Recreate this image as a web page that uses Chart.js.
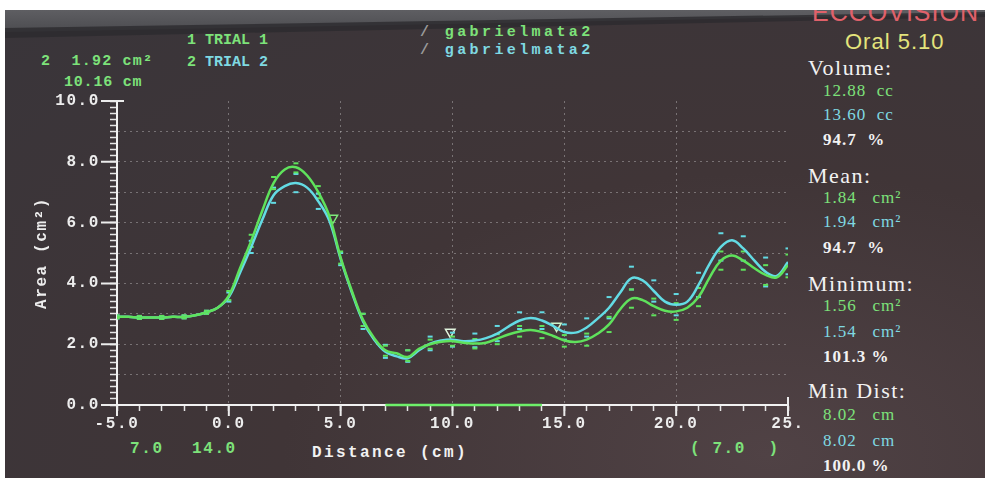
<!DOCTYPE html>
<html>
<head>
<meta charset="utf-8">
<script src="https://cdn.jsdelivr.net/npm/chart.js@4.4.1/dist/chart.umd.min.js"></script>
<style>
    html, body { margin: 0; padding: 0; background: #fff; width: 985px; height: 485px; overflow: hidden; }
    #screen {
        position: absolute; left: 5px; top: 10px; width: 980px; height: 468px; overflow: hidden;
        background: radial-gradient(ellipse at 78% 95%, #504245 0%, #403537 45%, #39353a 100%);
    }
    #bezel {
        position: absolute; left: 0; top: 0; width: 980px; height: 24px;
        background: linear-gradient(#5e5e62, #4a4a4e);
        clip-path: polygon(0 0, 100% 0, 100% 4px, 0 22px);
    }
    #shade {
        position: absolute; left: 0; top: 0; width: 980px; height: 28px;
        background: #2c2b2e;
        clip-path: polygon(0 18px, 100% 2px, 100% 7px, 0 28px);
        opacity: 0.8;
    }
    .m { position: absolute; white-space: pre; font: bold 16px 'Liberation Mono', 'DejaVu Sans Mono', monospace; letter-spacing: 1.6px; line-height: 16px; }
    .n { position: absolute; white-space: pre; font: bold 15px 'Liberation Mono', 'DejaVu Sans Mono', monospace; line-height: 15px; }
    .s { position: absolute; white-space: pre; font: 17px 'Liberation Serif', serif; letter-spacing: 1px; line-height: 18px; }
    .h { position: absolute; white-space: pre; font: 22px 'Liberation Serif', serif; letter-spacing: 1.5px; line-height: 22px; color: #f2f2f2; }
    .g { color: #7de27a; }
    .c { color: #7fd9e2; }
    .w { color: #f2f2f2; }
    canvas { position: absolute; left: 0; top: 0; }
</style>
</head>
<body>
<div id="screen">
    <div id="bezel"></div>
    <div id="shade"></div>
    <div style="position:absolute;left:807px;top:-12px;font:25px 'Liberation Sans',sans-serif;letter-spacing:1px;color:#e0616a;">ECCOVISION</div>
</div>

<div class="n g" style="left:41px;top:54px;letter-spacing:1.2px;">2  1.92 cm²</div>
<div class="n g" style="left:64px;top:75px;letter-spacing:0.8px;">10.16 cm</div>
<div class="n" style="left:187px;top:33px;"><span class="g">1 TRIAL 1</span></div>
<div class="n" style="left:187px;top:55px;"><span class="g">2 </span><span class="c">TRIAL 2</span></div>
<div class="n" style="left:420px;top:25px;letter-spacing:3.4px;"><span style="color:#9a9a9a">/ </span><span class="g">gabrielmata2</span></div>
<div class="n" style="left:420px;top:43px;letter-spacing:3.4px;"><span style="color:#9a9a9a">/ </span><span class="c">gabrielmata2</span></div>

<div class="m g" style="left:130px;top:441px;">7.0</div>
<div class="m g" style="left:192px;top:441px;">14.0</div>
<div class="m w" style="left:312px;top:445px;letter-spacing:2.4px;">Distance (cm)</div>
<div class="m g" style="left:690px;top:441px;">( 7.0  )</div>

<div style="position:absolute;left:845px;top:29px;font:22px 'Liberation Sans',sans-serif;letter-spacing:1px;color:#e4e47c;">Oral 5.10</div>
<div class="h" style="left:808px;top:57px;">Volume:</div>
<div class="s g" style="left:823px;top:82px;">12.88  cc</div>
<div class="s c" style="left:823px;top:106px;">13.60  cc</div>
<div class="s w" style="left:823px;top:131px;font-weight:bold;">94.7  %</div>
<div class="h" style="left:808px;top:165px;">Mean:</div>
<div class="s g" style="left:823px;top:189px;">1.84   cm²</div>
<div class="s c" style="left:823px;top:213px;">1.94   cm²</div>
<div class="s w" style="left:823px;top:239px;font-weight:bold;">94.7  %</div>
<div class="h" style="left:808px;top:273px;">Minimum:</div>
<div class="s g" style="left:823px;top:297px;">1.56   cm²</div>
<div class="s c" style="left:823px;top:323px;">1.54   cm²</div>
<div class="s w" style="left:823px;top:348px;font-weight:bold;">101.3 %</div>
<div class="h" style="left:808px;top:380px;">Min Dist:</div>
<div class="s g" style="left:823px;top:406px;">8.02   cm</div>
<div class="s c" style="left:823px;top:432px;">8.02   cm</div>
<div class="s w" style="left:823px;top:457px;font-weight:bold;">100.0 %</div>

<canvas id="area-chart" width="985" height="485"></canvas>

<script>
    // distance along the tract (cm) and mean area (cm²) of each trial
    const distance = [-5, -4.5, -4, -3.5, -3, -2.5, -2, -1.5, -1, -0.5,
        0, 0.5, 1, 1.5, 2, 2.5, 3, 3.5, 4, 4.5,
        5, 5.5, 6, 6.5, 7, 7.5, 8, 8.5, 9, 9.5,
        10, 10.5, 11, 11.5, 12, 12.5, 13, 13.5, 14, 14.5,
        15, 15.5, 16, 16.5, 17, 17.5, 18, 18.5, 19, 19.5,
        20, 20.5, 21, 21.5, 22, 22.5, 23, 23.5, 24, 24.5, 25];
    const trial1 = [2.9, 2.9, 2.88, 2.88, 2.88, 2.9, 2.9, 2.95, 3.05, 3.2,
        3.6, 4.5, 5.4, 6.4, 7.3, 7.75, 7.82, 7.55, 7.0, 6.2,
        4.85, 3.75, 2.8, 2.2, 1.8, 1.7, 1.58, 1.85, 2.0, 2.08,
        2.1, 2.05, 2.02, 2.05, 2.18, 2.32, 2.42, 2.47, 2.4, 2.27,
        2.12, 2.07, 2.15, 2.35, 2.65, 3.15, 3.5, 3.45, 3.25, 3.1,
        3.08, 3.2, 3.55, 4.2, 4.75, 4.92, 4.75, 4.5, 4.28, 4.2, 4.6];
    const trial2 = [2.9, 2.9, 2.88, 2.88, 2.88, 2.9, 2.9, 2.95, 3.05, 3.2,
        3.55, 4.35, 5.2, 6.1, 6.9, 7.2, 7.3, 7.15, 6.7, 6.05,
        4.8, 3.7, 2.75, 2.15, 1.75, 1.6, 1.54, 1.8, 2.02, 2.12,
        2.15, 2.1, 2.12, 2.2, 2.35, 2.58, 2.78, 2.86, 2.78, 2.6,
        2.4, 2.38, 2.55, 2.85, 3.2, 3.7, 4.17, 4.1, 3.75, 3.4,
        3.3, 3.4, 3.95, 4.65, 5.2, 5.42, 5.15, 4.75, 4.38, 4.25, 4.7];

    // spread marks drawn as short dashes above and below each curve
    const spreadX = [-5, -4, -3, -2, -1, 0, 1, 2, 3, 4, 5, 6, 7, 8, 9, 10,
        11, 12, 13, 14, 15, 16, 17, 18, 19, 20, 21, 22, 23, 24, 25];
    const trial1Upper = [2.95, 2.93, 2.93, 2.95, 3.1, 3.75, 5.6, 7.5, 7.95, 7.2, 5.05, 3.0, 1.95, 1.8, 2.15, 2.25,
        2.17, 2.33, 2.6, 2.6, 2.3, 2.35, 2.9, 3.8, 3.5, 3.35, 3.85, 5.05, 5.05, 4.6, 4.95];
    const trial1Lower = [2.85, 2.83, 2.83, 2.85, 3.0, 3.45, 5.2, 7.1, 7.65, 6.8, 4.65, 2.6, 1.62, 1.45, 1.85, 1.95,
        1.86, 2.0, 2.25, 2.2, 1.92, 1.95, 2.4, 3.2, 2.95, 2.8, 3.25, 4.45, 4.45, 3.95, 4.2];
    const trial2Upper = [2.95, 2.93, 2.93, 2.95, 3.1, 3.7, 5.4, 7.15, 7.6, 6.95, 5.0, 3.0, 1.98, 1.8, 2.25, 2.38,
        2.35, 2.6, 3.05, 3.05, 2.65, 2.85, 3.55, 4.55, 4.1, 3.65, 4.35, 5.65, 5.55, 4.85, 5.15];
    const trial2Lower = [2.85, 2.83, 2.83, 2.85, 3.0, 3.4, 5.0, 6.65, 7.0, 6.45, 4.6, 2.5, 1.55, 1.42, 1.8, 1.92,
        1.9, 2.1, 2.5, 2.5, 2.15, 2.25, 2.85, 3.8, 3.4, 2.95, 3.55, 4.75, 4.75, 3.9, 4.3];

    // cursor markers and the selected range on the axis
    const markerX = [4.65, 9.9, 14.65];
    const markerY = [6.15, 2.4, 2.6];
    const rangeX = [7.0, 14.0];

    // labelled ticks
    const xTicks = [-5, 0, 5, 10, 15, 20, 25];
    const yTicks = [0, 2, 4, 6, 8, 10];

    const green = '#5fe25c';
    const cyan = '#63dbe4';
    const mono = "'Liberation Mono', 'DejaVu Sans Mono', monospace";
    const tickFont = {family: mono, size: 16, weight: 'bold'};

    const pts = (xs, ys) => xs.map((x, i) => ({x: x, y: ys[i]}));
    const isStep = (v, step) => Math.abs(v / step - Math.round(v / step)) < 1e-6;

    const spread = (data, color) => ({
        data: data,
        showLine: false,
        pointStyle: 'line',
        pointRadius: 2.5,
        pointBorderWidth: 2,
        pointBorderColor: color,
        borderColor: color
    });

    // screen font is spaced out, so widen canvas text too
    const spacing = {
        id: 'spacing',
        beforeUpdate(chart) { chart.ctx.letterSpacing = '1.6px'; },
        beforeDraw(chart) { chart.ctx.letterSpacing = '1.6px'; }
    };

    // longer tick marks at the labelled values
    const majorTicks = {
        id: 'majorTicks',
        beforeDatasetsDraw(chart) {
            const {ctx, chartArea, scales: {x, y}} = chart;
            ctx.save();
            ctx.strokeStyle = '#ececec';
            ctx.lineWidth = 2;
            ctx.beginPath();
            yTicks.forEach(function (v) {
                const py = y.getPixelForValue(v);
                ctx.moveTo(chartArea.left - 16, py);
                ctx.lineTo(chartArea.left, py);
            });
            ctx.moveTo(chartArea.left, chartArea.top);
            ctx.lineTo(chartArea.left + 7, chartArea.top);
            xTicks.forEach(function (v) {
                const px = x.getPixelForValue(v);
                ctx.moveTo(px, chartArea.bottom);
                ctx.lineTo(px, chartArea.bottom + 11);
            });
            ctx.moveTo(chartArea.right, chartArea.bottom);
            ctx.lineTo(chartArea.right, chartArea.bottom - 8);
            ctx.stroke();
            ctx.restore();
        }
    };

    const gridColor = 'rgba(215, 215, 215, 0.38)';
    const clear = 'rgba(0, 0, 0, 0)';

    new Chart(document.getElementById('area-chart'), {
        type: 'line',
        data: {
            datasets: [
                {data: pts(distance, trial1), borderColor: green, borderWidth: 2.5, pointRadius: 0, tension: 0.4},
                {data: pts(distance, trial2), borderColor: cyan, borderWidth: 2.5, pointRadius: 0, tension: 0.4},
                spread(pts(spreadX, trial1Upper), green),
                spread(pts(spreadX, trial1Lower), green),
                spread(pts(spreadX, trial2Upper), cyan),
                spread(pts(spreadX, trial2Lower), cyan),
                {
                    data: pts(markerX, markerY),
                    showLine: false,
                    pointStyle: 'triangle',
                    rotation: 180,
                    pointRadius: 5.5,
                    pointBorderWidth: 1.5,
                    pointBorderColor: ['#80ea7c', '#e2f6df', '#cdf2c8'],
                    pointBackgroundColor: clear
                },
                {
                    data: rangeX.map(x => ({x: x, y: 0})),
                    borderColor: '#6ef06a',
                    borderWidth: 2.5,
                    pointRadius: 0,
                    clip: false
                }
            ]
        },
        options: {
            responsive: false,
            animation: false,
            devicePixelRatio: 1,
            layout: {padding: {left: 0, top: 101, right: 197, bottom: 0}},
            plugins: {
                legend: {display: false},
                tooltip: {enabled: false}
            },
            scales: {
                x: {
                    type: 'linear',
                    min: -5,
                    max: 25,
                    afterFit: function (scale) { scale.height = 80; },
                    ticks: {
                        stepSize: 1,
                        autoSkip: false,
                        maxRotation: 0,
                        padding: 3,
                        color: '#ededed',
                        font: tickFont,
                        callback: function (value) {
                            if (!xTicks.includes(value)) return '';
                            return value === 25 ? '25.' : value.toFixed(1);
                        }
                    },
                    grid: {
                        color: function (ctx) {
                            const v = ctx.tick ? ctx.tick.value : null;
                            return (v !== null && isStep(v, 5) && v > -5 && v < 25) ? gridColor : clear;
                        },
                        tickColor: '#e6e6e6',
                        tickLength: 6,
                        tickWidth: 1.5
                    },
                    border: {color: '#f2f2f2', width: 2, dash: [2, 4]}
                },
                y: {
                    min: 0,
                    max: 10,
                    afterFit: function (scale) { scale.width = 117; },
                    ticks: {
                        stepSize: 0.2,
                        autoSkip: false,
                        padding: 10,
                        color: '#ededed',
                        font: tickFont,
                        callback: function (value) {
                            return isStep(value, 2) ? value.toFixed(1) : '';
                        }
                    },
                    grid: {
                        color: function (ctx) {
                            const v = ctx.tick ? ctx.tick.value : null;
                            return (v !== null && isStep(v, 1) && v > 0 && v < 10) ? gridColor : clear;
                        },
                        tickColor: '#e6e6e6',
                        tickLength: 7,
                        tickWidth: 1.5
                    },
                    border: {color: '#f2f2f2', width: 2, dash: [2, 4]},
                    title: {
                        display: true,
                        text: 'Area (cm²)',
                        color: '#ededed',
                        font: tickFont,
                        padding: {top: 32, bottom: 0}
                    }
                }
            }
        },
        plugins: [spacing, majorTicks]
    });
</script>
</body>
</html>
